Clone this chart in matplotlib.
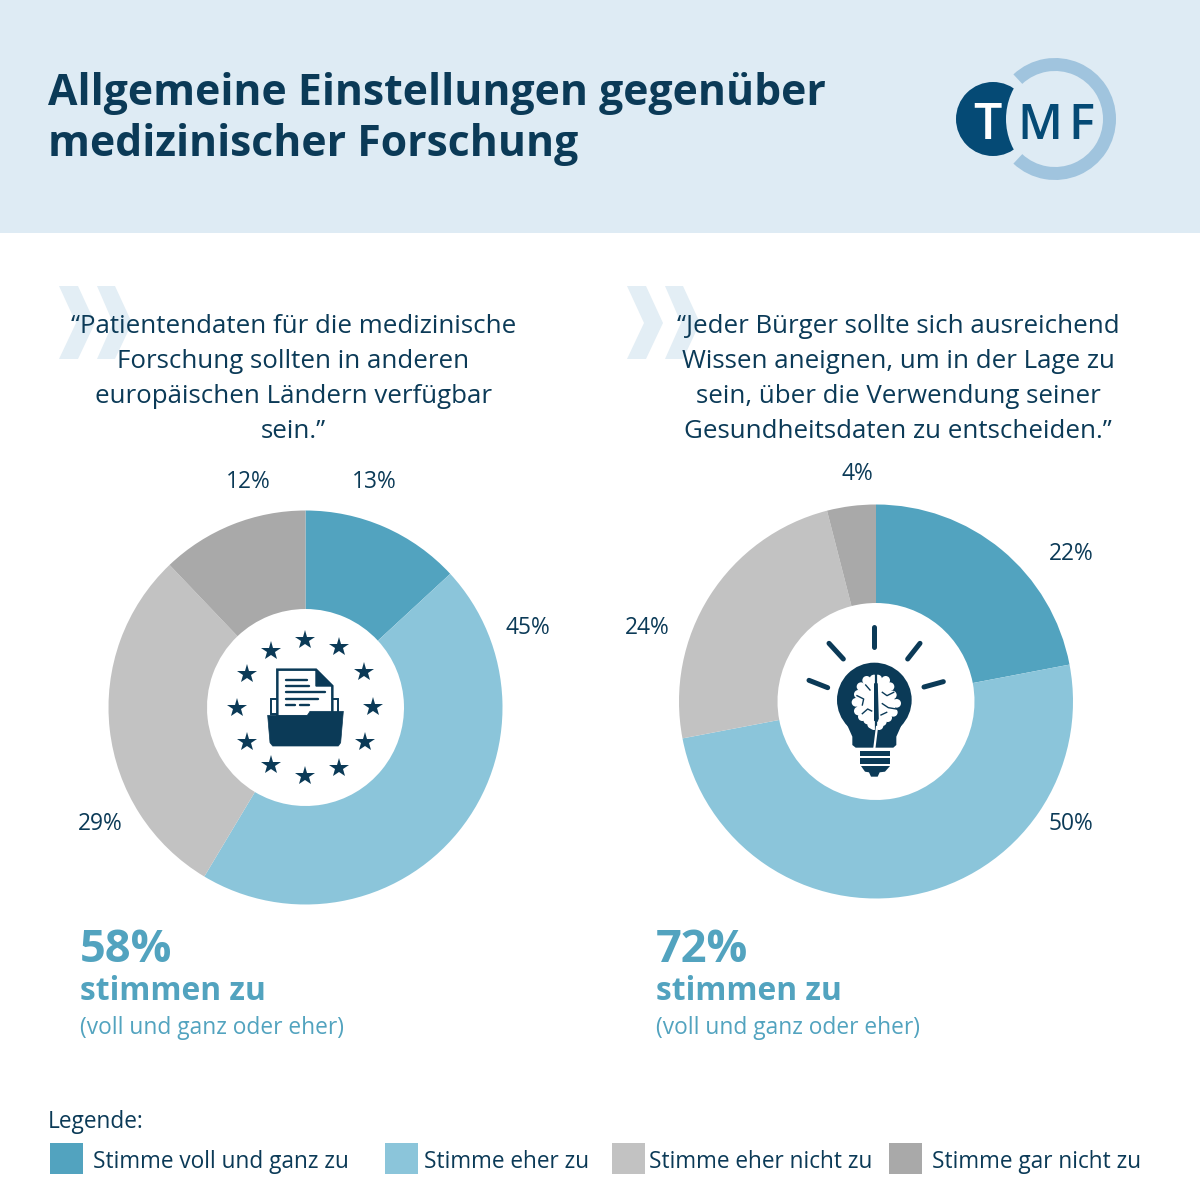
import numpy as np
import matplotlib
matplotlib.use("Agg")
import matplotlib.pyplot as plt
from matplotlib.patches import Rectangle, Polygon, Circle, Wedge

plt.rcParams['font.family'] = ['Open Sans', 'DejaVu Sans']

# ---------- data ----------
categories = ["Stimme voll und ganz zu", "Stimme eher zu", "Stimme eher nicht zu", "Stimme gar nicht zu"]
left_values = [13, 45, 29, 12]
right_values = [22, 50, 24, 4]
left_agree = 58
right_agree = 72
title_lines = ["Allgemeine Einstellungen gegenüber", "medizinischer Forschung"]
left_question = ["“Patientendaten für die medizinische", "Forschung sollten in anderen",
                 "europäischen Ländern verfügbar", "sein.”"]
right_question = ["“Jeder Bürger sollte sich ausreichend", "Wissen aneignen, um in der Lage zu",
                  "sein, über die Verwendung seiner", "Gesundheitsdaten zu entscheiden.”"]

# ---------- styles ----------
colors = ["#52a3bf", "#8bc5da", "#c2c2c2", "#a9a9a9"]
DARK = "#0b3a57"
HEADER = "#deebf4"
CHEV = "#e3eef5"
TEAL = "#52a3bf"
left_label_xy = [(374, 481.5), (528, 628.5), (100, 824.5), (248, 481.5)]
right_label_xy = [(1071, 554.5), (1071, 824.5), (647, 628.5), (857, 474.5)]
legend_box_x = [50, 385, 612, 889]
legend_text_x = [93, 424, 649, 932]

fig = plt.figure(figsize=(12, 12), dpi=100, facecolor="white")
ax = fig.add_axes([0, 0, 1, 1], zorder=1)
ax.set_xlim(0, 1200); ax.set_ylim(1200, 0); ax.axis("off")

# header
ax.add_patch(Rectangle((0, 0), 1200, 233, fc=HEADER, ec="none"))
for line, y in zip(title_lines, [105, 156]):
    ax.text(48, y, line, fontsize=30.8, fontweight="bold", color=DARK, va="baseline", ha="left")

# logo
ax.add_patch(Circle((993, 119), 37, fc="#054a75", ec="none"))
ax.add_patch(Circle((1070, 119), 64, fc=HEADER, ec="none"))
ax.add_patch(Wedge((1055, 119), 61, -133, 133, width=13, fc="#a0c4de", ec="none"))
ax.text(987, 139, "T", fontsize=36, fontweight="semibold", color="white", ha="center", va="baseline")
ax.text(1040, 139, "M", fontsize=35, fontweight="semibold", color="#054a75", ha="center", va="baseline")
ax.text(1081, 139, "F", fontsize=35, fontweight="semibold", color="#054a75", ha="center", va="baseline")

# chevrons
def chevrons(dx):
    for pts in ([(59, 286), (78, 286), (95, 323), (78, 359), (59, 359), (76, 323)],
                [(97, 286), (115, 286), (132, 323), (115, 359), (97, 359), (113, 323)]):
        ax.add_patch(Polygon([(x + dx, y) for x, y in pts], fc=CHEV, ec="none"))
chevrons(0); chevrons(568)

# questions
for lines, cx in ((left_question, 293.5), (right_question, 898)):
    for line, y in zip(lines, [333, 368, 403, 438.5]):
        ax.text(cx, y, line, fontsize=18.6, color=DARK, ha="center", va="baseline")

# donuts
def donut(values, cx, cy, R):
    a = fig.add_axes([(cx - R) / 1200, 1 - (cy + R) / 1200, 2 * R / 1200, 2 * R / 1200], zorder=0)
    a.pie(values, colors=colors, startangle=90, counterclock=False, radius=1,
          wedgeprops=dict(width=0.5, edgecolor="none"))
    a.set_xlim(-1, 1); a.set_ylim(-1, 1); a.set_aspect("equal"); a.axis("off")
    a.patch.set_alpha(0)

donut(left_values, 305.5, 707.5, 197)
donut(right_values, 876, 701.5, 197)

for vals, xys in ((left_values, left_label_xy), (right_values, right_label_xy)):
    for v, (x, y) in zip(vals, xys):
        ax.text(x, y, f"{v}%", fontsize=16.4, color=DARK, ha="center", va="center")

# agree summaries
for val, x in ((left_agree, 80), (right_agree, 656)):
    ax.text(x, 962, f"{val}%", fontsize=32.6, fontweight="bold", color=TEAL, ha="left", va="baseline")
    ax.text(x, 1000, "stimmen zu", fontsize=22.9, fontweight="bold", color=TEAL, ha="left", va="baseline")
    ax.text(x, 1034, "(voll und ganz oder eher)", fontsize=16.4, color=TEAL, ha="left", va="baseline")

# legend
ax.text(48, 1128, "Legende:", fontsize=16.3, color=DARK, ha="left", va="baseline")
for c, name, bx, tx in zip(colors, categories, legend_box_x, legend_text_x):
    ax.add_patch(Rectangle((bx, 1143), 33, 31, fc=c, ec="none"))
    ax.text(tx, 1168, name, fontsize=16.3, color=DARK, ha="left", va="baseline")

# ---------- folder icon ----------
def Z(x, y, ox=200, oy=610):
    return (ox + x / 3, oy + y / 3)
stars = [(315, 90), (418, 112), (492, 187), (520, 292), (495, 396), (416, 473),
         (315, 497), (213, 465), (142, 395), (110, 293), (142, 192), (213, 122)]
ax.plot(*zip(*[Z(*s) for s in stars]), ls="none", marker="*", ms=14.5, mfc=DARK, mec=DARK, mew=0)
ax.add_patch(Polygon([Z(213, 312), Z(213, 268), Z(413, 268), Z(413, 312)], fc="white", ec=DARK, lw=1.4))
ax.add_patch(Polygon([Z(232, 320), Z(232, 179), Z(348, 179), Z(397, 228), Z(397, 320)], fc="white", ec=DARK, lw=1.8))
ax.add_patch(Polygon([Z(348, 179), Z(397, 228), Z(348, 228)], fc=DARK, ec=DARK, lw=1))
for x0, x1, y in [(258, 322, 211), (258, 328, 229), (258, 374, 247), (258, 355, 267), (258, 285, 286), (300, 328, 286)]:
    ax.plot(*zip(Z(x0, y), Z(x1, y)), color=DARK, lw=1.7, solid_capstyle="round")
ax.add_patch(Polygon([Z(203, 316), Z(322, 316), Z(330, 304), Z(430, 304), Z(422, 398), Z(415, 408),
                      Z(218, 408), Z(210, 398)], fc=DARK, ec=DARK, lw=0.5, joinstyle="round"))

# ---------- bulb icon ----------
def B(x, y):
    return (775 + x / 3, 605 + y / 3)
for p, q in [((298, 65), (298, 125)), ((162, 115), (205, 162)), ((435, 115), (398, 162)),
             ((102, 226), (158, 248)), ((505, 230), (447, 246))]:
    ax.plot(*zip(B(*p), B(*q)), color=DARK, lw=3.6, solid_capstyle="round")
ax.add_patch(Circle(B(298, 285), 112 / 3, fc=DARK, ec="none"))
ax.add_patch(Polygon([B(212, 350), B(232, 395), B(232, 420), B(242, 428), B(355, 428), B(364, 420),
                      B(364, 395), B(384, 350)], fc=DARK, ec="none"))
for (x0, x1, y0, y1) in [(256, 345, 438, 454), (256, 345, 460, 476)]:
    ax.add_patch(Polygon([B(x0, y0), B(x1, y0), B(x1, y1), B(x0, y1)], fc=DARK, ec="none"))
ax.add_patch(Polygon([B(258, 483), B(345, 483), B(330, 500), B(314, 502), B(308, 515), B(288, 515),
                      B(282, 502), B(270, 500)], fc=DARK, ec="none"))
left_lobe = [(297, 222), (275, 226), (258, 245), (250, 268), (243, 292), (250, 318), (262, 335), (278, 345), (290, 358), (297, 362)]
right_lobe = [(308, 222), (332, 226), (345, 245), (352, 270), (365, 295), (355, 322), (338, 338), (322, 350), (312, 362)]
for lobe in (left_lobe, right_lobe):
    ax.add_patch(Polygon([B(*p) for p in lobe], fc="white", ec="none"))
    for p in lobe:
        ax.add_patch(Circle(B(*p), 13 / 3, fc="white", ec="none"))
ax.plot(*zip(B(303, 205), B(303, 372)), color=DARK, lw=1.6)
ax.plot(*zip(B(306, 366), B(298, 430)), color="white", lw=1.6)
for pts in ([(246, 272), (266, 282), (262, 300)], [(262, 326), (278, 312), (290, 318)],
            [(272, 240), (285, 255)], [(356, 262), (336, 272), (322, 262)],
            [(364, 312), (340, 308), (322, 296)], [(318, 330), (335, 322)]):
    ax.plot(*zip(*[B(*p) for p in pts]), color=DARK, lw=1.0)

fig.savefig("out.png", dpi=100, facecolor="white")
